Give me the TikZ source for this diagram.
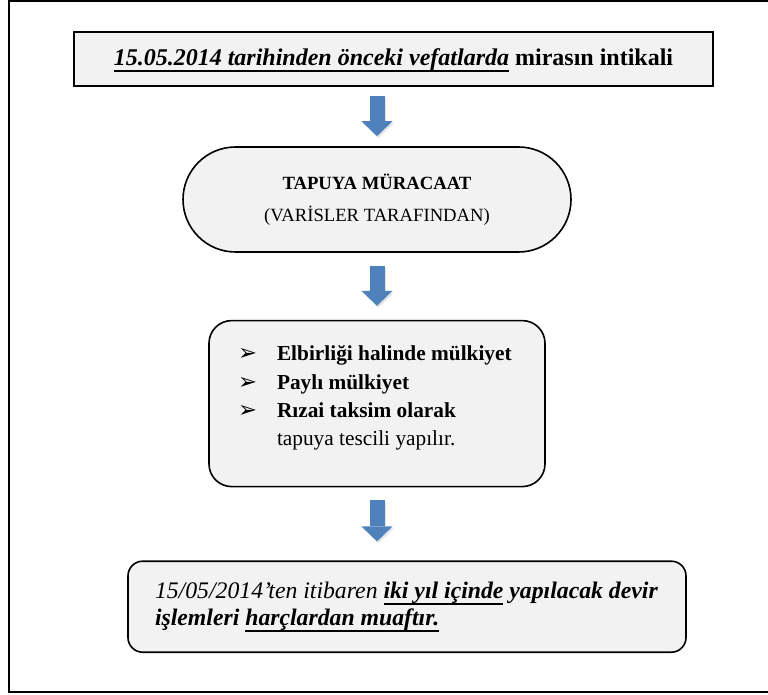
\documentclass[tikz,border=0pt]{standalone}
\usepackage{fontspec}
\setmainfont{Liberation Serif}
\newfontfamily\symfont{DejaVu Sans}
\usetikzlibrary{arrows.meta,positioning,shapes.misc}

\definecolor{arrowblue}{HTML}{4F81BD}
\definecolor{boxgray}{HTML}{F2F2F2}

\newsavebox\ulbox
\newcommand{\ulin}[1]{\sbox\ulbox{#1}\rlap{\rule[-5pt]{\wd\ulbox}{1.4pt}}\usebox\ulbox}
\newcommand{\bul}{{\symfont\fontsize{17pt}{17pt}\selectfont ➢}}

\begin{document}
\begin{tikzpicture}[
    font=\fontsize{16pt}{21.25pt}\selectfont,
    inner sep=0pt,
    headbox/.style={draw, line width=1.8pt, fill=boxgray, minimum width=479.25pt, minimum height=40.5pt, text height=12pt, text depth=2pt},
    stadbox/.style={draw, line width=1.2pt, fill=boxgray, rounded rectangle, minimum width=291pt, minimum height=78.75pt, align=center, font=\fontsize{14pt}{24pt}\selectfont},
    listbox/.style={draw, line width=1.2pt, fill=boxgray, rounded corners=17pt},
    notebox/.style={draw, line width=1.2pt, fill=boxgray, rounded corners=11pt},
    flowarrow/.style={draw=arrowblue, line width=11.25pt, -{Triangle[width=23.25pt,length=11.25pt,line width=0pt]}},
    arrowshade/.style={draw=black!10, line width=11.25pt, -{Triangle[width=23.25pt,length=11.25pt,line width=0pt]}, transform canvas={shift={(1pt,-1.5pt)}}}
  ]
  \useasboundingbox (0,0) rectangle (576pt,-521.25pt);
  \draw[line width=1.2pt] (576pt,-0.75pt) -- (6.75pt,-0.75pt) -- (6.75pt,-519pt) -- (576pt,-519pt);

  \node[headbox] (head) at (295.1pt,-44.25pt) {\fontsize{18pt}{18pt}\selectfont\bfseries\ulin{\itshape 15.05.2014 tarihinden önceki vefatlarda} mirasın intikali};
  \node[stadbox, below=44.25pt of head, xshift=-12.35pt] (stad) {\textbf{TAPUYA MÜRACAAT}\\(VARİSLER TARAFINDAN)};
  \node[listbox, below=50.25pt of stad] (list) {\begin{minipage}[c][124.5pt][t]{252pt}
    \rule{0pt}{30.2pt}\hspace*{21.75pt}\makebox[29.25pt][l]{\bul}\textbf{Elbirliği halinde mülkiyet}\\
    \hspace*{21.75pt}\makebox[29.25pt][l]{\bul}\textbf{Paylı mülkiyet}\\
    \hspace*{21.75pt}\makebox[29.25pt][l]{\bul}\textbf{Rızai taksim olarak}\\
    \hspace*{51pt}tapuya tescili yapılır.
  \end{minipage}};
  \node[notebox, below=54.75pt of list, xshift=22.5pt] (note) {\begin{minipage}[c][68.25pt][c]{418.5pt}
    \fontsize{17.8pt}{20.25pt}\selectfont\itshape\leftskip=20.25pt
    15/05/2014’ten itibaren \ulin{\bfseries iki yıl içinde} \textbf{yapılacak devir}\\
    \textbf{işlemleri} \ulin{\bfseries harçlardan muaftır.}
  \end{minipage}};

  % block arrows between the boxes
  \foreach \from/\to/\gapa/\gapb in {head/stad/6.75pt/7.5pt, stad/list/9.75pt/10.5pt, list/note/9.75pt/14.25pt}{
    \draw[arrowshade, shorten <=\gapa, shorten >=\gapb] (\from.south -| stad) -- (\to.north -| stad);
    \draw[flowarrow, shorten <=\gapa, shorten >=\gapb] (\from.south -| stad) -- (\to.north -| stad);
  }
\end{tikzpicture}
\end{document}
